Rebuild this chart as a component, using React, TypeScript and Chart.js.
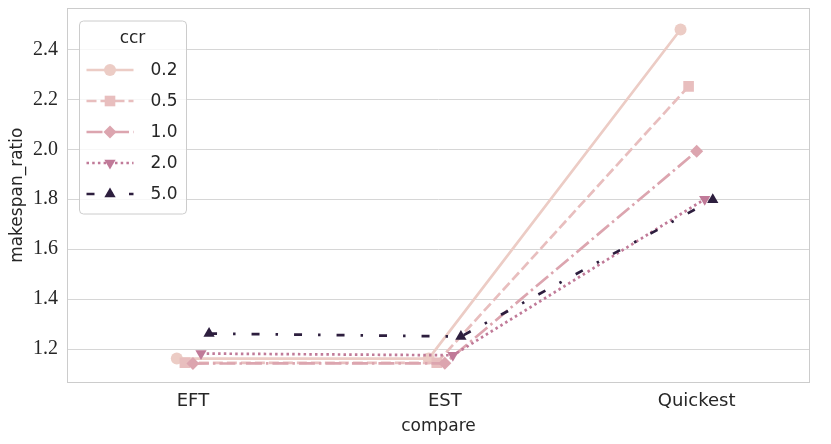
import React, { useEffect, useRef } from 'react';
import { Chart, registerables } from 'chart.js';

Chart.register(...registerables);

const categories = ['EFT', 'EST', 'Quickest'];
const ccrLabels = ['0.2', '0.5', '1.0', '2.0', '5.0'];
const ratioCcr02 = [1.162, 1.162, 2.48];
const ratioCcr05 = [1.145, 1.145, 2.252];
const ratioCcr10 = [1.142, 1.143, 1.992];
const ratioCcr20 = [1.182, 1.175, 1.8];
const ratioCcr50 = [1.262, 1.25, 1.798];
const yTicks = [1.2, 1.4, 1.6, 1.8, 2.0, 2.2, 2.4];

const seriesValues = [ratioCcr02, ratioCcr05, ratioCcr10, ratioCcr20, ratioCcr50];
const colors = ['#ecccc5', '#e8bebe', '#dca5af', '#c07a98', '#2d1e3e'];
const markers = ['circle', 'rect', 'rectRot', 'triangle', 'triangle'];
const markerRot = [0, 0, 0, 180, 0];
const markerSize = [6, 7.5, 6.5, 6.5, 6.5];
const dashes: number[][] = [[], [10, 4], [16, 4, 2.5, 4], [2.5, 3.2], [8, 16, 2.5, 16]];
const legendDashOffset = [0, 0, 0, 0, 0];
const DODGE_STEP = 0.032;

const TEXT = '#262626';
const SANS = '"DejaVu Sans", sans-serif';
const SERIF = '"Liberation Serif", serif';

function drawMarker(ctx: CanvasRenderingContext2D, style: string, x: number, y: number, r: number, rot: number) {
  ctx.beginPath();
  if (style === 'circle') {
    ctx.arc(x, y, r, 0, Math.PI * 2);
  } else if (style === 'rect') {
    const s = r * Math.SQRT1_2;
    ctx.rect(x - s, y - s, 2 * s, 2 * s);
  } else if (style === 'rectRot') {
    ctx.moveTo(x - r, y);
    ctx.lineTo(x, y - r);
    ctx.lineTo(x + r, y);
    ctx.lineTo(x, y + r);
    ctx.closePath();
  } else {
    let a = (rot * Math.PI) / 180;
    for (let k = 0; k < 3; k++) {
      const px = x + Math.sin(a) * r;
      const py = y - Math.cos(a) * r;
      if (k === 0) ctx.moveTo(px, py);
      else ctx.lineTo(px, py);
      a += (2 * Math.PI) / 3;
    }
    ctx.closePath();
  }
  ctx.fill();
}

const framePlugin = {
  id: 'frameAndLegend',
  beforeDatasetsDraw(chart: any) {
    const { ctx, chartArea } = chart;
    ctx.save();
    ctx.strokeStyle = '#cccccc';
    ctx.lineWidth = 1;
    const l = Math.round(chartArea.left) + 0.5;
    const t = Math.round(chartArea.top) + 0.5;
    const r = Math.round(chartArea.right) - 0.5;
    const b = Math.round(chartArea.bottom) - 0.5;
    ctx.strokeRect(l, t, r - l, b - t);
    ctx.restore();
  },
  afterDraw(chart: any) {
    const { ctx, chartArea } = chart;
    const bx = chartArea.left + 12.5;
    const by = chartArea.top + 13.5;
    const bw = 107;
    const bh = 193;
    ctx.save();
    ctx.beginPath();
    ctx.roundRect(bx, by, bw, bh, 4);
    ctx.fillStyle = 'rgba(255,255,255,0.8)';
    ctx.fill();
    ctx.strokeStyle = '#cccccc';
    ctx.lineWidth = 1;
    ctx.stroke();

    ctx.fillStyle = TEXT;
    ctx.font = '17px ' + SANS;
    ctx.textAlign = 'center';
    ctx.textBaseline = 'middle';
    ctx.fillText('ccr', bx + 53, by + 18);

    chart.data.datasets.forEach((ds: any, i: number) => {
      const y = by + 49 + i * 31;
      const x0 = bx + 7;
      const x1 = bx + 54;
      ctx.save();
      ctx.strokeStyle = ds.borderColor;
      ctx.lineWidth = ds.borderWidth;
      ctx.setLineDash(ds.borderDash || []);
      ctx.lineDashOffset = legendDashOffset[i];
      ctx.lineCap = 'butt';
      ctx.beginPath();
      ctx.moveTo(x0, y);
      ctx.lineTo(x1, y);
      ctx.stroke();
      ctx.setLineDash([]);
      ctx.fillStyle = ds.borderColor;
      drawMarker(ctx, ds.pointStyle, (x0 + x1) / 2, y, ds.pointRadius, ds.pointRotation);
      ctx.restore();
      ctx.fillStyle = TEXT;
      ctx.font = '17px ' + SANS;
      ctx.textAlign = 'left';
      ctx.textBaseline = 'middle';
      ctx.fillText(ds.label, bx + 71, y + 1);
    });
    ctx.restore();
  },
};

export default function App() {
  const canvasRef = useRef<HTMLCanvasElement | null>(null);

  useEffect(() => {
    if (!canvasRef.current) return;
    const n = ccrLabels.length;
    const datasets = ccrLabels.map((lab, i) => ({
      label: lab,
      data: seriesValues[i].map((v, c) => ({ x: c + (i - (n - 1) / 2) * DODGE_STEP, y: v })),
      borderColor: colors[i],
      backgroundColor: colors[i],
      borderWidth: 2.7,
      borderDash: dashes[i],
      pointStyle: markers[i],
      pointRotation: markerRot[i],
      pointRadius: markerSize[i],
      pointBorderWidth: 0,
      pointBackgroundColor: colors[i],
      tension: 0,
      fill: false,
      order: n - i,
    }));

    const chart = new Chart(canvasRef.current, {
      type: 'line',
      data: { datasets },
      plugins: [framePlugin],
      options: {
        animation: false,
        responsive: false,
        devicePixelRatio: 1,
        layout: { padding: { left: 0, top: 7, right: 21, bottom: 0 } },
        plugins: { legend: { display: false }, tooltip: { enabled: false } },
        scales: {
          x: {
            type: 'linear',
            min: -0.5,
            max: 2.45,
            afterBuildTicks: (scale: any) => {
              scale.ticks = categories.map((_, i) => ({ value: i }));
            },
            afterFit: (scale: any) => {
              scale.height = 61;
              scale.paddingLeft = 0;
              scale.paddingRight = 0;
            },
            ticks: {
              callback: (v: any) => categories[Math.round(Number(v))],
              color: TEXT,
              font: { family: SANS, size: 18 },
              padding: 8,
              maxRotation: 0,
              autoSkip: false,
            },
            grid: { display: false, drawTicks: false },
            border: { display: false },
            title: {
              display: true,
              text: 'compare',
              color: TEXT,
              font: { family: SANS, size: 17 },
              padding: { top: 0, bottom: 7 },
            },
          },
          y: {
            type: 'linear',
            min: 1.064,
            max: 2.568,
            afterBuildTicks: (scale: any) => {
              scale.ticks = yTicks.map((v) => ({ value: v }));
            },
            afterFit: (scale: any) => {
              scale.width = 67;
              scale.paddingTop = 0;
              scale.paddingBottom = 0;
            },
            ticks: {
              callback: (v: any) => Number(v).toFixed(1),
              color: TEXT,
              font: { family: SERIF, size: 20 },
              padding: 9,
            },
            grid: { color: '#d6d6d6', lineWidth: 1, drawTicks: false },
            border: { display: false },
            title: {
              display: true,
              text: 'makespan_ratio',
              color: TEXT,
              font: { family: SANS, size: 17 },
              padding: { top: 7, bottom: 0 },
            },
          },
        },
      },
    });
    return () => chart.destroy();
  }, []);

  return (
    <div style={{ margin: -8, width: 831, height: 444 }}>
      <canvas ref={canvasRef} width={831} height={444} style={{ display: 'block' }} />
    </div>
  );
}
